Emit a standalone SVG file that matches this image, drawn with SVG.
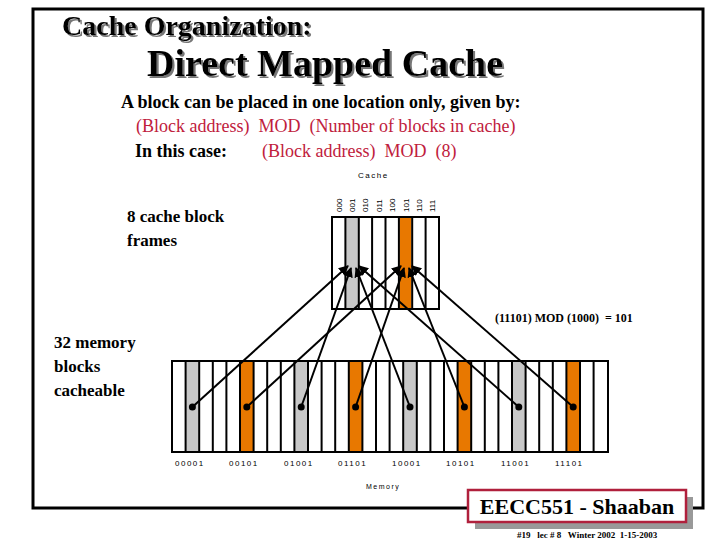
<svg xmlns="http://www.w3.org/2000/svg" width="720" height="540" viewBox="0 0 720 540">
<style>
.s{font-family:'Liberation Sans',sans-serif;font-size:8px;letter-spacing:1.5px}
.blk{fill:#fff;stroke:#000;stroke-width:2}
.g{fill:#c8c8c8}.o{fill:#e87800}
.c line{stroke:#000;stroke-width:2}
.pre{white-space:pre}
</style>
<defs>
<marker id="ah" viewBox="0 0 10 10" refX="9" refY="5" markerWidth="5" markerHeight="5" orient="auto"><path d="M0,0L10,5L0,10z" fill="#000"/></marker>
<filter id="sh" x="-5%" y="-20%" width="110%" height="140%"><feDropShadow dx="2" dy="2" stdDeviation="0.6" flood-color="#777"/></filter>
</defs>
<rect width="720" height="540" fill="#fff"/>
<rect x="33" y="9" width="670" height="499" fill="none" stroke="#000" stroke-width="3"/>
<g font-family="Liberation Serif, serif" font-weight="bold">
<text x="62" y="35" font-size="28" filter="url(#sh)">Cache Organization:</text>
<text x="147" y="76" font-size="38" filter="url(#sh)">Direct Mapped Cache</text>
<text x="121" y="108" font-size="18">A block can be placed in one location only, given by:</text>
<text x="135" y="157" font-size="18">In this case:</text>
<text x="127" y="222" font-size="17">8 cache block</text>
<text x="127" y="246" font-size="17">frames</text>
<text class="pre" x="495" y="322" font-size="12">(11101) MOD (1000)  = 101</text>
<text x="54" y="348" font-size="17">32 memory</text>
<text x="54" y="372" font-size="17">blocks</text>
<text x="54" y="396" font-size="17">cacheable</text>
</g>
<g font-family="Liberation Serif, serif" font-size="18" fill="#c0203c">
<text class="pre" x="136" y="132">(Block address)  MOD  (Number of blocks in cache)</text>
<text class="pre" x="262" y="157">(Block address)  MOD  (8)</text>
</g>
<text class="s" x="358" y="178">Cache</text>
<g id="cache">
<rect class="blk" x="332" y="217" width="107" height="92"/>
<rect class="g" x="346" y="218" width="12" height="90"/>
<rect class="o" x="399.5" y="218" width="12" height="90"/>
<path d="M345.4 217V309M358.8 217V309M372.1 217V309M385.5 217V309M398.9 217V309M412.2 217V309M425.6 217V309" stroke="#000" stroke-width="2"/>
<g class="s" style="letter-spacing:0">
<text transform="translate(342,212) rotate(-90)">000</text>
<text transform="translate(355,212) rotate(-90)">001</text>
<text transform="translate(368,212) rotate(-90)">010</text>
<text transform="translate(382,212) rotate(-90)">011</text>
<text transform="translate(395,212) rotate(-90)">100</text>
<text transform="translate(409,212) rotate(-90)">101</text>
<text transform="translate(422,212) rotate(-90)">110</text>
<text transform="translate(435,212) rotate(-90)">111</text>
</g>
</g>
<g id="memory">
<rect class="blk" x="172" y="361" width="436" height="91"/>
<rect class="g" x="185.6" y="362" width="13.6" height="89"/>
<rect class="o" x="240" y="362" width="13.6" height="89"/>
<rect class="g" x="294.4" y="362" width="13.6" height="89"/>
<rect class="o" x="348.8" y="362" width="13.6" height="89"/>
<rect class="g" x="403.2" y="362" width="13.6" height="89"/>
<rect class="o" x="457.6" y="362" width="13.6" height="89"/>
<rect class="g" x="512" y="362" width="13.6" height="89"/>
<rect class="o" x="566.4" y="362" width="13.6" height="89"/>
<path d="M185.6 361v91M199.2 361v91M212.8 361v91M226.4 361v91M240 361v91M253.6 361v91M267.2 361v91M280.8 361v91M294.4 361v91M308 361v91M321.6 361v91M335.2 361v91M348.8 361v91M362.4 361v91M376 361v91M389.6 361v91M403.2 361v91M416.8 361v91M430.4 361v91M444 361v91M457.6 361v91M471.2 361v91M484.8 361v91M498.4 361v91M512 361v91M525.6 361v91M539.2 361v91M552.8 361v91M566.4 361v91M580 361v91M593.6 361v91" stroke="#000" stroke-width="2"/>
<g class="s">
<text x="175" y="466">00001</text><text x="229" y="466">00101</text><text x="284" y="466">01001</text><text x="338" y="466">01101</text>
<text x="392" y="466">10001</text><text x="446" y="466">10101</text><text x="501" y="466">11001</text><text x="555" y="466">11101</text>
</g>
</g>
<text class="s" x="366" y="489" style="font-size:7px">Memory</text>
<g class="c" id="connectors" fill="#000">
<line x1="192.4" y1="407" x2="348" y2="266" marker-end="url(#ah)"/>
<line x1="301.2" y1="407" x2="351" y2="268" marker-end="url(#ah)"/>
<line x1="410" y1="407" x2="356" y2="268" marker-end="url(#ah)"/>
<line x1="518.8" y1="407" x2="359" y2="266" marker-end="url(#ah)"/>
<line x1="246.8" y1="407" x2="401" y2="266" marker-end="url(#ah)"/>
<line x1="355.6" y1="407" x2="404" y2="268" marker-end="url(#ah)"/>
<line x1="464.4" y1="407" x2="409" y2="268" marker-end="url(#ah)"/>
<line x1="573.2" y1="407" x2="412" y2="266" marker-end="url(#ah)"/>
<circle cx="192.4" cy="407" r="3.5"/><circle cx="246.8" cy="407" r="3.5"/><circle cx="301.2" cy="407" r="3.5"/><circle cx="355.6" cy="407" r="3.5"/>
<circle cx="410" cy="407" r="3.5"/><circle cx="464.4" cy="407" r="3.5"/><circle cx="518.8" cy="407" r="3.5"/><circle cx="573.2" cy="407" r="3.5"/>
</g>
<g id="footer">
<rect x="475" y="497" width="218" height="32" fill="#999"/>
<rect x="468" y="490" width="218" height="32" fill="#fff" stroke="#b0203c" stroke-width="2.5"/>
<text font-family="Liberation Serif, serif" font-weight="bold" x="577" y="514" font-size="22" text-anchor="middle">EECC551 - Shaaban</text>
<text class="pre" font-family="Liberation Serif, serif" font-weight="bold" x="517" y="538" font-size="9">#19   lec # 8   Winter 2002  1-15-2003</text>
</g>
</svg>
